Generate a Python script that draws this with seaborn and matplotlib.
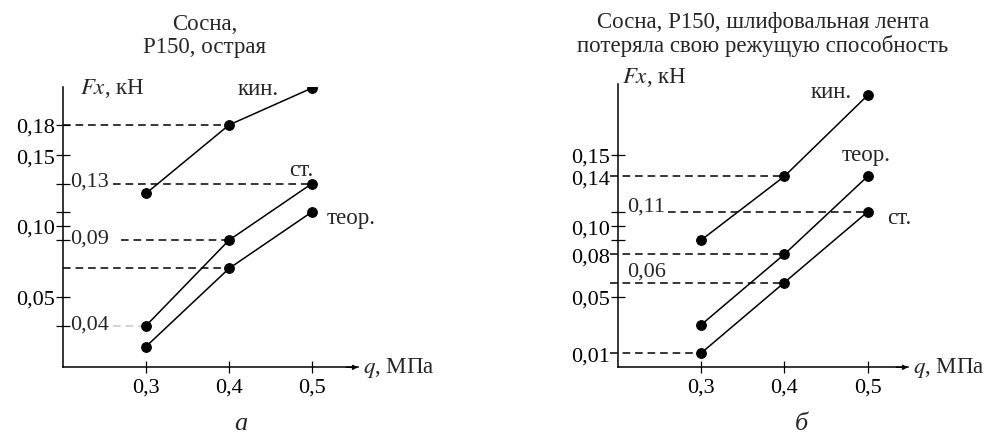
import numpy as np
import matplotlib
matplotlib.use("Agg")
import matplotlib.pyplot as plt
import seaborn as sns

# pressure q, MPa
q = [0.3, 0.4, 0.5]
q_labels = ["0,3", "0,4", "0,5"]

# (а) Сосна, Р150, острая -- Fx, kN
a_kin = [0.123, 0.18, 0.217]
a_st = [0.04, 0.09, 0.13]
a_teor = [0.02, 0.07, 0.11]

# (б) Сосна, Р150, лента потеряла режущую способность -- Fx, kN
b_kin = [0.09, 0.14, 0.192]
b_teor = [0.03, 0.08, 0.14]
b_st = [0.01, 0.06, 0.11]

# y-axis marks as drawn in the original
a_ticks_out = [0.05, 0.10, 0.15, 0.18]
a_ticks_in = [0.04, 0.09, 0.13]
a_ticks_blank = [0.11]
b_ticks_out = [0.05, 0.10, 0.15]
b_labels_out = [0.01, 0.08, 0.14]
b_ticks_in = [0.11]
b_labels_in = [0.06]
b_ticks_blank = [0.09]

sns.set_style("white")
plt.rcParams["font.family"] = ["Liberation Serif", "DejaVu Serif"]
plt.rcParams["mathtext.fontset"] = "stix"
FS = 16.5
TFS = 16


def fmt(v):
    return f"{v:.2f}".replace(".", ",")


def warp(ax, vals, px):
    # the hand-drawn y axis of the source is not uniform
    ax.set_yscale("function", functions=(lambda v: np.interp(v, vals, px),
                                         lambda h: np.interp(h, px, vals)))


def style(ax, xmax, ytop):
    ax.set_xlim(0.2, xmax)
    ax.set_ylim(0, ytop)
    sns.despine(ax=ax)
    for s in ["left", "bottom"]:
        ax.spines[s].set_linewidth(1.1)
        ax.spines[s].set_color("black")
    ax.set_xticks(q, labels=q_labels)
    ax.tick_params(axis="x", bottom=True, direction="inout", length=9,
                   width=0.9, pad=3, labelsize=TFS, colors="black")
    ax.tick_params(axis="y", left=True, direction="inout", length=10,
                   width=0.9, pad=0.5, labelsize=TFS, colors="black")
    ax.annotate("", xy=(1.0, 0), xytext=(0.96, 0), xycoords="axes fraction",
                arrowprops=dict(arrowstyle="-|>", color="black", lw=1.0,
                                mutation_scale=7, shrinkA=0, shrinkB=0))
    ax.text(1.017, 0, "$q$, МПа", transform=ax.transAxes, ha="left",
            va="center", fontsize=FS)
    ax.set_xlabel("")
    ax.set_ylabel("")


def curve(ax, ys):
    sns.lineplot(x=q, y=ys, ax=ax, color="black", linewidth=1.1,
                 marker="o", markersize=7, markeredgecolor="black")


def guide(ax, y, x_end, x_start, color="black"):
    ax.hlines(y, x_start, x_end, colors=color, linestyles=(0, (5, 3.2)),
              linewidth=1.1, clip_on=False, zorder=1)


def tag(ax, x, y, text, dx, dy):
    ax.annotate(text, (x, y), xytext=(dx, dy), textcoords="offset points",
                ha="center", va="center", fontsize=FS)


fig = plt.figure(figsize=(9.95, 4.39), dpi=100)
ax1 = fig.add_axes([63 / 995, 0.161, 295 / 995, 280.3 / 439])
ax2 = fig.add_axes([617.7 / 995, 0.161, 290.3 / 995, 283.3 / 439])

# ---------------- panel а ----------------
for ys in [a_kin, a_st, a_teor]:
    curve(ax1, ys)
warp(ax1, [0, 0.04, 0.05, 0.15, 0.18, 0.25], [0, 41.6, 70.6, 212.3, 242.6, 312.6])
style(ax1, 0.2 + 295 / 830, 0.218)
ticks = a_ticks_out + a_ticks_in + a_ticks_blank
ax1.set_yticks(ticks, labels=[fmt(v) for v in a_ticks_out] + [""] * 4)
for v in a_ticks_in:
    ax1.annotate(fmt(v), (0.2, v), xytext=(5, 1.5), textcoords="offset points",
                 ha="left", va="center", fontsize=TFS)
guide(ax1, a_kin[1], q[1], 0.2)
guide(ax1, a_st[2], q[2], 0.2 + 50 / 830)
guide(ax1, a_st[1], q[1], 0.2 + 58 / 830)
guide(ax1, a_teor[1], q[1], 0.2)
guide(ax1, a_st[0], q[0], 0.2 + 50 / 830, color="#c8c8c8")
tag(ax1, q[2], a_kin[2], "кин.", -39, 0)
tag(ax1, q[2], a_st[2], "ст.", -8, 10)
tag(ax1, q[2], a_teor[2], "теор.", 28, -4)
ax1.text(0.058, 1.0, "$Fx$, кН", transform=ax1.transAxes, ha="left",
         va="center", fontsize=FS)

# ---------------- panel б ----------------
for ys in [b_kin, b_teor, b_st]:
    curve(ax2, ys)
warp(ax2, [0, 0.13, 0.14, 0.15, 0.25], [0, 183.3, 190.6, 212.3, 353.3])
style(ax2, 0.2 + 290.3 / 833, 0.2)
ticks = b_ticks_out + b_labels_out + b_ticks_in + b_ticks_blank
ax2.set_yticks(ticks, labels=[fmt(v) for v in b_ticks_out + b_labels_out] + ["", ""])
for t in ax2.yaxis.get_major_ticks()[len(b_ticks_out):len(b_ticks_out) + len(b_labels_out)]:
    t.tick1line.set_visible(False)
ax2.annotate(fmt(b_ticks_in[0]), (0.2, b_ticks_in[0]), xytext=(7, 4),
             textcoords="offset points", ha="left", va="center", fontsize=TFS)
ax2.annotate(fmt(b_labels_in[0]), (0.2, b_labels_in[0]), xytext=(7, 8),
             textcoords="offset points", ha="left", va="center", fontsize=TFS)
x0 = 0.2 - 8 / 833
guide(ax2, b_kin[1], q[1], x0)
guide(ax2, b_st[2], q[2], 0.2 + 50 / 833)
guide(ax2, b_teor[1], q[1], x0)
guide(ax2, b_st[1], q[1], x0)
guide(ax2, b_st[0], q[0], x0)
tag(ax2, q[2], b_kin[2], "кин.", -26, 3)
tag(ax2, q[2], b_teor[2], "теор.", -1, 16)
tag(ax2, q[2], b_st[2], "ст.", 23, -4)
ax2.text(0.014, 1.028, "$Fx$, кН", transform=ax2.transAxes, ha="left",
         va="center", fontsize=FS)

# titles and panel letters
fig.text(205 / 995, 1 - 36 / 439, "Сосна,\nР150, острая", ha="center",
         va="center", fontsize=FS, linespacing=1.1)
fig.text(763 / 995, 1 - 34.5 / 439,
         "Сосна, Р150, шлифовальная лента\nпотеряла свою режущую способность",
         ha="center", va="center", fontsize=FS, linespacing=1.1)
fig.text(241 / 995, 1 - 430 / 439, "а", ha="center", va="baseline",
         fontsize=19, style="italic")
fig.text(801 / 995, 1 - 430 / 439, "б", ha="center", va="baseline",
         fontsize=19, style="italic")

fig.savefig("out.png", dpi=100)
